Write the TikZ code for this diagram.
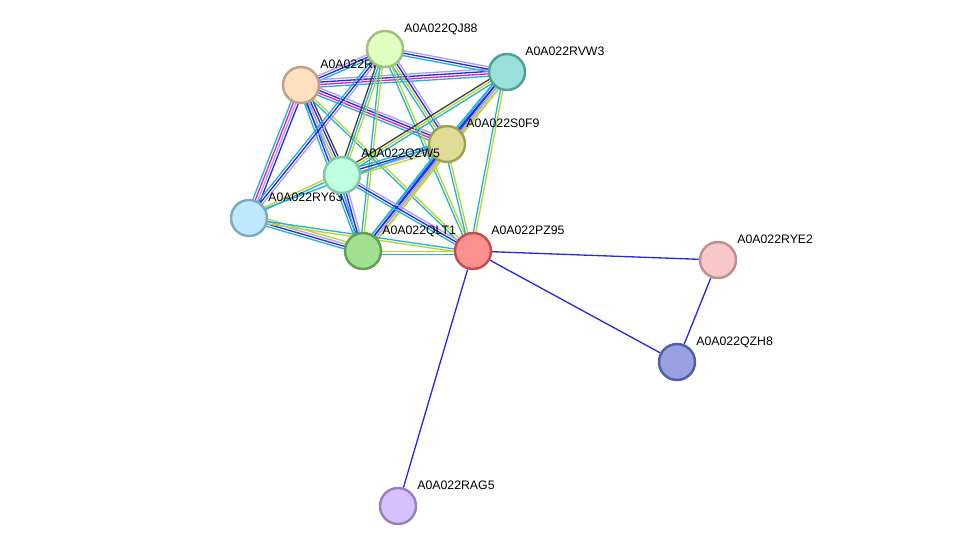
\documentclass[tikz,border=0pt]{standalone}
\usepackage{fontspec}
\setmainfont{Liberation Sans}
\usetikzlibrary{calc,backgrounds}
\definecolor{ecy}{HTML}{22B4D4}
\definecolor{eyg}{HTML}{BCD430}
\definecolor{ebl}{HTML}{2828E8}
\definecolor{ela}{HTML}{A8A0F4}
\definecolor{emg}{HTML}{E020C8}
\definecolor{edk}{HTML}{404040}
\tikzset{
  prot/.style={circle,minimum size=0.72cm,inner sep=0,line width=1.4pt},
  lab/.style={anchor=base west,inner sep=0,font=\fontsize{7}{8}\selectfont},
  e/.style={line width=0.75pt}
}
\newcommand\pedge[3]{\foreach \c [count=\i] in {#3}{%
  \pgfmathsetmacro\o{(\i-1)*1.4-1.8}%
  \draw[e,\c] ($(#1.center)!\o pt!90:(#2.center)$) -- ($(#2.center)!\o pt!-90:(#1.center)$);}}
\begin{document}
\begin{tikzpicture}[x=0.02cm,y=-0.02cm]
\useasboundingbox (0,0) rectangle (976,552);
% labels
\node[lab] at (404,32) {A0A022QJ88};
\node[lab] at (525,55) {A0A022RVW3};
\node[lab] at (320,68) {A0A022RI};
\node[lab] at (466,127) {A0A022S0F9};
\node[lab] at (268,201) {A0A022RY63};
\node[lab] at (382,234) {A0A022QLT1};
\node[lab] at (491,234) {A0A022PZ95};
\node[lab] at (737,243) {A0A022RYE2};
\node[lab] at (696,345) {A0A022QZH8};
\node[lab] at (417,489) {A0A022RAG5};
% nodes
\node[prot,fill={rgb,255:red,224;green,255;blue,192},draw={rgb,255:red,160;green,192;blue,128}] (qj) at (385,49) {};
\node[prot,fill={rgb,255:red,152;green,224;blue,216},draw={rgb,255:red,80;green,160;blue,152}] (rvw) at (507,72) {};
\node[prot,fill={rgb,255:red,255;green,224;blue,192},draw={rgb,255:red,192;green,160;blue,128}] (ri) at (301,85) {};
\node[prot,fill={rgb,255:red,224;green,220;blue,152},draw={rgb,255:red,160;green,160;blue,80}] (s0) at (447,144) {};
\node[prot,fill={rgb,255:red,192;green,255;blue,224},draw={rgb,255:red,128;green,200;blue,160}] (q2) at (342,175) {};
\node[prot,fill={rgb,255:red,192;green,232;blue,255},draw={rgb,255:red,128;green,168;blue,192}] (ry) at (249,218) {};
\node[prot,fill={rgb,255:red,160;green,224;blue,144},draw={rgb,255:red,96;green,160;blue,80}] (qlt) at (363,251) {};
\node[prot,fill={rgb,255:red,255;green,144;blue,144},draw={rgb,255:red,192;green,80;blue,80}] (pz) at (473,251) {};
\node[prot,fill={rgb,255:red,248;green,200;blue,200},draw={rgb,255:red,192;green,144;blue,144}] (rye) at (718,260) {};
\node[prot,fill={rgb,255:red,152;green,160;blue,224},draw={rgb,255:red,80;green,96;blue,160}] (qzh) at (677,362) {};
\node[prot,fill={rgb,255:red,216;green,192;blue,255},draw={rgb,255:red,152;green,128;blue,192}] (rag) at (398,506) {};
\node[lab] at (361,157) {A0A022Q2W5};
\begin{scope}[on background layer]
\fill[white] (0,0) rectangle (976,552);
\pedge{ri}{qj}{ecy,ebl,ela}
\pedge{ri}{rvw}{ecy,emg,ebl,ela}
\pedge{qj}{rvw}{ecy,ebl,ela}
\pedge{ri}{s0}{ecy,emg,ebl,ela}
\pedge{ri}{q2}{ecy,eyg,ebl,edk}
\pedge{ri}{ry}{ecy,emg,ela,ebl}
\pedge{ri}{qlt}{ecy,ebl,ela}
\pedge{ri}{pz}{ecy,eyg}
\pedge{qj}{s0}{ecy,eyg,ebl,ela}
\pedge{qj}{q2}{edk,ecy,eyg}
\pedge{qj}{ry}{ecy,ebl,ela}
\pedge{qj}{qlt}{ecy,eyg}
\pedge{qj}{pz}{ecy,eyg}
\pedge{rvw}{s0}{ecy,ebl,ela,eyg}
\pedge{rvw}{q2}{edk,eyg,ecy}
\pedge{rvw}{qlt}{ecy,ebl,ela,eyg}
\pedge{rvw}{pz}{ecy,eyg}
\pedge{s0}{q2}{ecy,ebl,ela,eyg}
\pedge{s0}{qlt}{ecy,ebl,ela,eyg}
\pedge{s0}{pz}{ecy,eyg}
\pedge{s0}{ry}{ecy}
\pedge{q2}{ry}{eyg,ecy}
\pedge{q2}{qlt}{ecy,ebl,ela}
\pedge{q2}{pz}{ecy,ebl,ela}
\pedge{ry}{qlt}{ecy,ebl,ela,eyg}
\pedge{ry}{pz}{eyg,ecy}
\pedge{qlt}{pz}{ecy,eyg}
\draw[e,ebl] (pz) -- (rye);
\draw[e,ebl] (pz) -- (qzh);
\draw[e,ebl] (pz) -- (rag);
\draw[e,ebl] (rye) -- (qzh);
\end{scope}
\end{tikzpicture}
\end{document}
